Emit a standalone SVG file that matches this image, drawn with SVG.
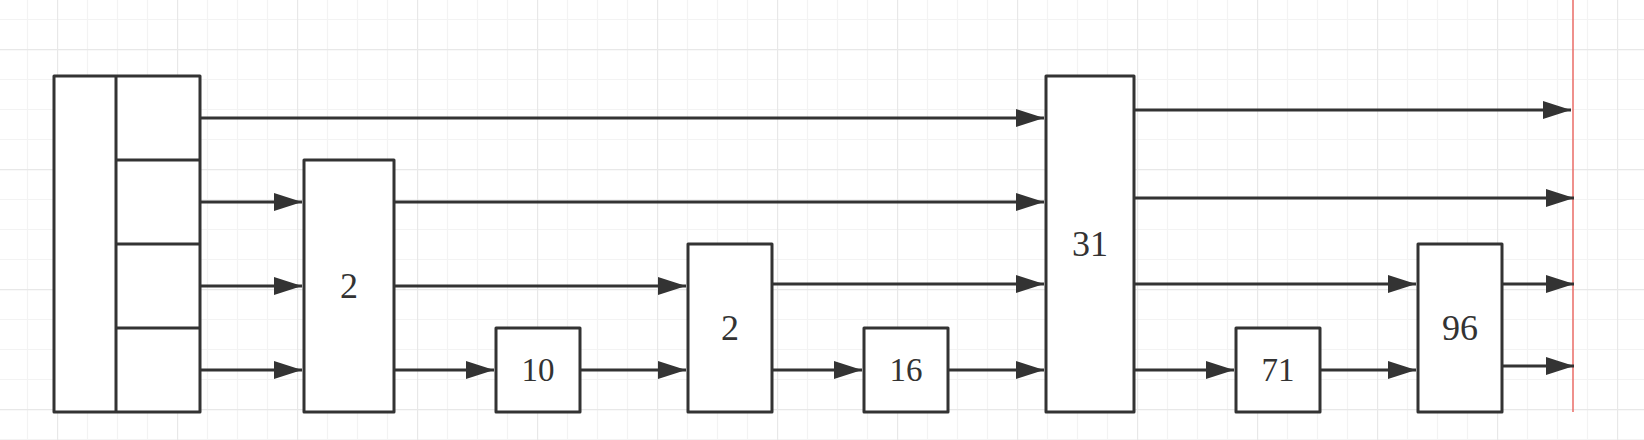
<svg xmlns="http://www.w3.org/2000/svg" width="1644" height="440" viewBox="0 0 1644 440">
  <style>
    .box { fill: #ffffff; stroke: #333333; stroke-width: 3; stroke-linejoin: round; }
    .div { stroke: #333333; stroke-width: 3; fill: none; }
    .edge { stroke: #333333; stroke-width: 3; fill: none; marker-end: url(#arrow); }
    .lbl { font-family: "Liberation Serif", "Times New Roman", serif; fill: #333333; text-anchor: middle; dominant-baseline: central; }
    .big { font-size: 36px; }
    .small { font-size: 33px; }
  </style>
  <defs>
    <marker id="arrow" markerUnits="userSpaceOnUse" markerWidth="28" markerHeight="18" refX="28" refY="9" orient="auto" viewBox="0 0 28 18">
      <path d="M0,0 L28,9 L0,18 Z" fill="#333333"/>
    </marker>
    <pattern id="grid" patternUnits="userSpaceOnUse" x="57" y="49" width="120" height="120">
      <path d="M30.5,0 V120 M60.5,0 V120 M90.5,0 V120 M0,30.5 H120 M0,60.5 H120 M0,90.5 H120" stroke="#f3f3f3" stroke-width="1.2" fill="none"/>
      <path d="M0.5,0 V120 M0,0.5 H120" stroke="#e8e8e8" stroke-width="1.4" fill="none"/>
    </pattern>
  </defs>

  <rect x="0" y="0" width="1644" height="440" fill="#ffffff"/>
  <rect x="0" y="0" width="1644" height="440" fill="url(#grid)"/>
  <line x1="1573" y1="0" x2="1573" y2="412" stroke="#ea6b66" stroke-width="1.5"/>

  <g id="connectors">
    <line class="edge" x1="200" y1="118" x2="1044" y2="118"/>
    <line class="edge" x1="200" y1="202" x2="302" y2="202"/>
    <line class="edge" x1="200" y1="286" x2="302" y2="286"/>
    <line class="edge" x1="200" y1="370" x2="302" y2="370"/>
    <line class="edge" x1="394" y1="202" x2="1044" y2="202"/>
    <line class="edge" x1="394" y1="286" x2="686" y2="286"/>
    <line class="edge" x1="394" y1="370" x2="494" y2="370"/>
    <line class="edge" x1="580" y1="370" x2="686" y2="370"/>
    <line class="edge" x1="772" y1="284" x2="1044" y2="284"/>
    <line class="edge" x1="772" y1="370" x2="862" y2="370"/>
    <line class="edge" x1="948" y1="370" x2="1044" y2="370"/>
    <line class="edge" x1="1134" y1="110" x2="1571" y2="110"/>
    <line class="edge" x1="1134" y1="198" x2="1574" y2="198"/>
    <line class="edge" x1="1134" y1="284" x2="1416" y2="284"/>
    <line class="edge" x1="1134" y1="370" x2="1234" y2="370"/>
    <line class="edge" x1="1320" y1="370" x2="1416" y2="370"/>
    <line class="edge" x1="1502" y1="284" x2="1574" y2="284"/>
    <line class="edge" x1="1502" y1="366" x2="1574" y2="366"/>
  </g>

  <g id="array">
    <rect class="box" x="54" y="76" width="146" height="336"/>
    <line class="div" x1="116" y1="76" x2="116" y2="412"/>
    <line class="div" x1="116" y1="160" x2="200" y2="160"/>
    <line class="div" x1="116" y1="244" x2="200" y2="244"/>
    <line class="div" x1="116" y1="328" x2="200" y2="328"/>
  </g>

  <g id="node-2a">
    <rect class="box" x="304" y="160" width="90" height="252"/>
    <text class="lbl big" x="349" y="286">2</text>
  </g>

  <g id="node-10">
    <rect class="box" x="496" y="328" width="84" height="84"/>
    <text class="lbl small" x="538" y="370">10</text>
  </g>

  <g id="node-2b">
    <rect class="box" x="688" y="244" width="84" height="168"/>
    <text class="lbl big" x="730" y="328">2</text>
  </g>

  <g id="node-16">
    <rect class="box" x="864" y="328" width="84" height="84"/>
    <text class="lbl small" x="906" y="370">16</text>
  </g>

  <g id="node-31">
    <rect class="box" x="1046" y="76" width="88" height="336"/>
    <text class="lbl big" x="1090" y="244">31</text>
  </g>

  <g id="node-71">
    <rect class="box" x="1236" y="328" width="84" height="84"/>
    <text class="lbl small" x="1278" y="370">71</text>
  </g>

  <g id="node-96">
    <rect class="box" x="1418" y="244" width="84" height="168"/>
    <text class="lbl big" x="1460" y="328">96</text>
  </g>
</svg>
